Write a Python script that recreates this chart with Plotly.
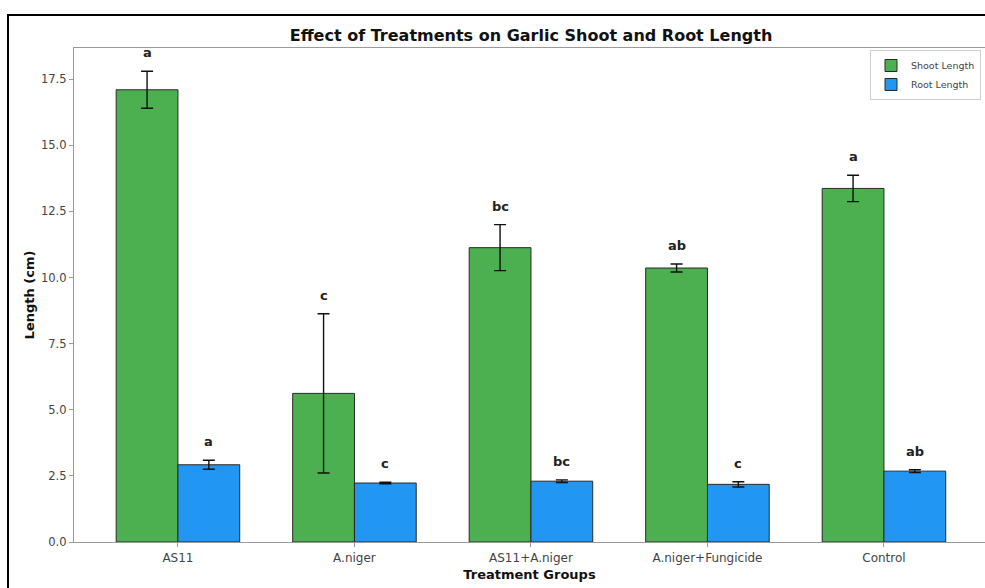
import plotly.graph_objects as go

categories = ["AS11", "A.niger", "AS11+A.niger", "A.niger+Fungicide", "Control"]
shoot_mean = [17.1, 5.62, 11.13, 10.36, 13.37]
shoot_err = [0.70, 3.01, 0.87, 0.15, 0.50]
root_mean = [2.92, 2.23, 2.30, 2.18, 2.68]
root_err = [0.17, 0.03, 0.05, 0.10, 0.05]
shoot_letters = ["a", "c", "bc", "ab", "a"]
root_letters = ["a", "c", "bc", "c", "ab"]
y_ticks = [0.0, 2.5, 5.0, 7.5, 10.0, 12.5, 15.0, 17.5]

W = 0.35
idx = list(range(len(categories)))
xs = [i - W / 2 for i in idx]
xr = [i + W / 2 for i in idx]

FONT = "DejaVu Sans"

fig = go.Figure()
fig.add_trace(go.Bar(
    x=xs, y=shoot_mean, width=W, name="Shoot Length",
    marker=dict(color="#4CAF50", line=dict(color="#2a2a2a", width=1)),
    error_y=dict(type="data", array=shoot_err, visible=True, color="#111111", thickness=1.4, width=6),
))
fig.add_trace(go.Bar(
    x=xr, y=root_mean, width=W, name="Root Length",
    marker=dict(color="#2196F3", line=dict(color="#2a2a2a", width=1)),
    error_y=dict(type="data", array=root_err, visible=True, color="#111111", thickness=1.4, width=6),
))

annotations = []
for i in idx:
    annotations.append(dict(x=xs[i], y=shoot_mean[i] + shoot_err[i], text="<b>%s</b>" % shoot_letters[i],
                            showarrow=False, yanchor="bottom", yshift=9,
                            font=dict(family=FONT, size=13, color="#222")))
    annotations.append(dict(x=xr[i], y=root_mean[i] + root_err[i], text="<b>%s</b>" % root_letters[i],
                            showarrow=False, yanchor="bottom", yshift=9,
                            font=dict(family=FONT, size=13, color="#222")))

FW, FH = 985, 588
L, R, T, B = 74, 0, 48, 588 - 542
pw, ph = FW - L - R, FH - T - B
fx = (8 - L) / pw
fy = (542 - 15) / ph
shapes = [
    dict(type="path", xref="paper", yref="paper",
         path=f"M {fx},-0.2 L {fx},{fy} L 1.02,{fy}",
         line=dict(color="black", width=2)),
]

fig.update_layout(
    width=FW, height=FH,
    margin=dict(l=L, r=R, t=T, b=B, autoexpand=False),
    paper_bgcolor="white", plot_bgcolor="white",
    barmode="overlay",
    font=dict(family=FONT, size=12, color="#444"),
    title=dict(text="<b>Effect of Treatments on Garlic Shoot and Root Length</b>",
               x=531 / FW, xanchor="center",
               y=1 - 35 / FH, yanchor="middle",
               font=dict(family=FONT, size=16, color="#111")),
    xaxis=dict(
        range=[-0.589, -0.589 + pw / 176.5],
        tickmode="array", tickvals=idx, ticktext=categories,
        showline=True, linecolor="#9a9a9a", linewidth=1.2, mirror=True,
        ticks="outside", ticklen=4, tickcolor="#9a9a9a",
        showgrid=False, zeroline=False, automargin=False,
        tickfont=dict(family=FONT, size=12, color="#444"),
        title=dict(text="<b>Treatment Groups</b>", standoff=6,
                   font=dict(family=FONT, size=13, color="#111")),
    ),
    yaxis=dict(
        range=[0, 18.68],
        tickmode="array", tickvals=y_ticks, ticktext=["%.1f" % v for v in y_ticks],
        showline=True, linecolor="#9a9a9a", linewidth=1.2, mirror=False,
        ticks="outside", ticklen=4, tickcolor="#9a9a9a",
        showgrid=False, zeroline=False, automargin=False,
        tickfont=dict(family=FONT, size=11.5, color="#444"),
        title=dict(text="<b>Length (cm)</b>", standoff=3,
                   font=dict(family=FONT, size=13, color="#111")),
    ),
    legend=dict(x=(981 - L) / pw, y=(542 - 50) / ph, xanchor="right", yanchor="top",
                bgcolor="rgba(255,255,255,0.9)", bordercolor="#d0d0d0", borderwidth=1,
                font=dict(family=FONT, size=9.5, color="#444"), tracegroupgap=0),
    annotations=annotations,
    shapes=shapes,
    showlegend=True,
)

fig.write_html("out.html",
               config={"displayModeBar": False},
               post_script="document.body.style.margin='0';document.body.style.overflow='hidden';")
